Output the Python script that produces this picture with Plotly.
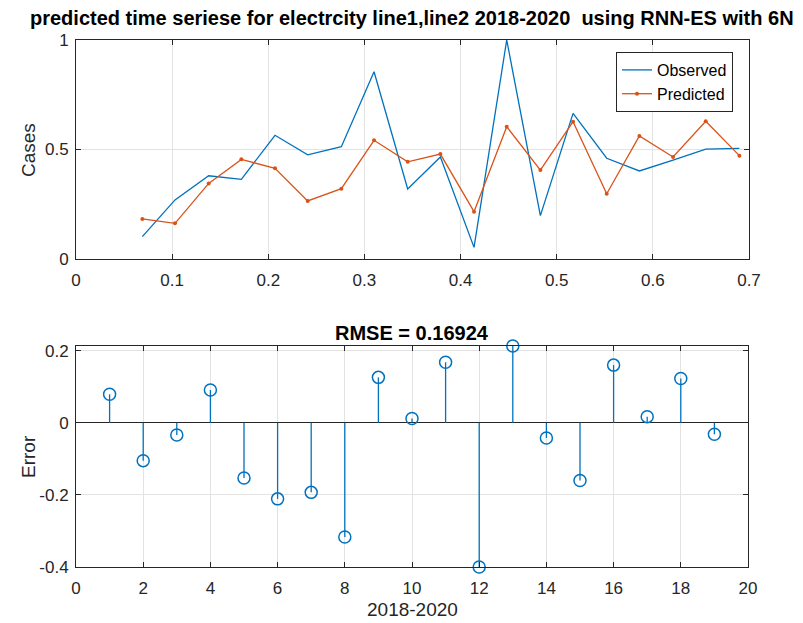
import plotly.graph_objects as go

# Sample positions (fraction of the series) and the two series
t = [0.069, 0.103, 0.138, 0.172, 0.207, 0.241, 0.276, 0.310, 0.345, 0.379,
     0.414, 0.448, 0.483, 0.517, 0.552, 0.586, 0.621, 0.655, 0.690]
observed = [0.102, 0.270, 0.380, 0.364, 0.565, 0.476, 0.513, 0.855, 0.320, 0.466,
            0.053, 1.000, 0.198, 0.665, 0.460, 0.402, 0.452, 0.502, 0.505]
predicted = [0.183, 0.163, 0.345, 0.455, 0.414, 0.265, 0.321, 0.542, 0.444, 0.479,
             0.216, 0.604, 0.406, 0.627, 0.298, 0.562, 0.466, 0.629, 0.472]

# Forecast error per step (predicted - observed)
steps = list(range(1, 20))
errors = [0.079, -0.105, -0.034, 0.091, -0.153, -0.211, -0.193, -0.317, 0.126, 0.012,
          0.168, -0.400, 0.213, -0.042, -0.160, 0.160, 0.017, 0.123, -0.032]
rmse_text = "RMSE = 0.16924"

top_x_ticks = [0, 0.1, 0.2, 0.3, 0.4, 0.5, 0.6, 0.7]
top_x_labels = ["0", "0.1", "0.2", "0.3", "0.4", "0.5", "0.6", "0.7"]
top_y_ticks = [0, 0.5, 1]
top_y_labels = ["0", "0.5", "1"]
bot_x_ticks = [0, 2, 4, 6, 8, 10, 12, 14, 16, 18, 20]
bot_y_ticks = [-0.4, -0.2, 0, 0.2]
bot_y_labels = ["-0.4", "-0.2", "0", "0.2"]

BLUE = "#0072BD"
ORANGE = "#D95319"
AXC = "#262626"
GRID = "#e3e3e3"
FONT = "Liberation Sans, Arial, sans-serif"
W, H = 803, 623

fig = go.Figure()

fig.add_trace(go.Scatter(x=t, y=observed, mode="lines", name="Observed",
                         line=dict(color=BLUE, width=1.3),
                         xaxis="x", yaxis="y"))
fig.add_trace(go.Scatter(x=t, y=predicted, mode="lines+markers", name="Predicted",
                         line=dict(color=ORANGE, width=1.3),
                         marker=dict(color=ORANGE, size=4),
                         xaxis="x", yaxis="y"))

# Stem lines from zero to each error value
stem_x, stem_y = [], []
for s, e in zip(steps, errors):
    stem_x += [s, s, None]
    stem_y += [0, e, None]
fig.add_trace(go.Scatter(x=stem_x, y=stem_y, mode="lines", showlegend=False,
                         line=dict(color=BLUE, width=1.3),
                         xaxis="x2", yaxis="y2", hoverinfo="skip"))
fig.add_trace(go.Scatter(x=steps, y=errors, mode="markers", showlegend=False,
                         cliponaxis=False,
                         marker=dict(symbol="circle-open", size=12,
                                     color=BLUE, line=dict(width=1.5, color=BLUE)),
                         xaxis="x2", yaxis="y2"))

def px_x(p):
    return p / W

def px_y(p):
    return 1 - p / H

axis_common = dict(showline=True, linecolor=AXC, linewidth=1, mirror="allticks",
                   ticks="inside", ticklen=5, tickcolor=AXC,
                   showgrid=True, gridcolor=GRID, gridwidth=1,
                   automargin=False,
                   tickfont=dict(family=FONT, size=17, color=AXC))

fig.update_layout(
    width=W, height=H,
    margin=dict(l=0, r=0, t=0, b=0, pad=0, autoexpand=False),
    paper_bgcolor="white", plot_bgcolor="white",
    font=dict(family=FONT, color=AXC),
    xaxis=dict(domain=[px_x(76), px_x(749)], range=[0, 0.7], anchor="y",
               tickvals=top_x_ticks, ticktext=top_x_labels, zeroline=False,
               ticklabelstandoff=6, **axis_common),
    yaxis=dict(domain=[px_y(259), px_y(40)], range=[0, 1], anchor="x",
               tickvals=top_y_ticks, ticktext=top_y_labels, zeroline=False,
               ticklabelstandoff=3, **axis_common),
    xaxis2=dict(domain=[px_x(76), px_x(748)], range=[0, 20], anchor="y2",
                tickvals=bot_x_ticks, zeroline=False,
                ticklabelstandoff=6, **axis_common),
    yaxis2=dict(domain=[px_y(567), px_y(346)], range=[min(errors), max(errors)],
                anchor="x2", tickvals=bot_y_ticks, ticktext=bot_y_labels,
                zeroline=True, zerolinecolor=AXC, zerolinewidth=1,
                ticklabelstandoff=3, **axis_common),
    legend=dict(x=px_x(733), y=px_y(52), xanchor="right", yanchor="top",
                bgcolor="white", bordercolor=AXC, borderwidth=1,
                font=dict(family=FONT, size=16, color="#000"),
                tracegroupgap=0),
    showlegend=True,
)

annotations = [
    dict(text="<b>predicted time seriese for electrcity line1,line2 2018-2020\u00a0\u00a0using RNN-ES with 6N</b>",
         x=px_x(412), y=px_y(18), font=dict(size=20, color="#000")),
    dict(text="<b>" + rmse_text + "</b>",
         x=px_x(412), y=px_y(333), font=dict(size=20, color="#000")),
    dict(text="Cases", x=px_x(28), y=px_y(150), textangle=-90,
         font=dict(size=19, color=AXC)),
    dict(text="Error", x=px_x(28), y=px_y(457), textangle=-90,
         font=dict(size=19, color=AXC)),
    dict(text="2018-2020", x=px_x(412), y=px_y(609),
         font=dict(size=19, color=AXC)),
]
for a in annotations:
    a.update(xref="paper", yref="paper", showarrow=False,
             xanchor="center", yanchor="middle")
    a["font"]["family"] = FONT
fig.update_layout(annotations=annotations)

fig.write_html("out.html")
